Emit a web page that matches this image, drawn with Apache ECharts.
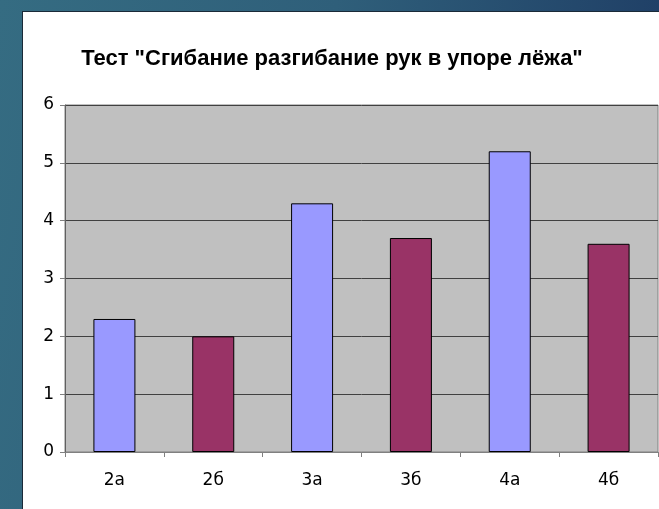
<!DOCTYPE html>
<html>
<head>
<meta charset="utf-8">
<script src="https://cdn.jsdelivr.net/npm/echarts@6/dist/echarts.min.js"></script>
<style>
    html, body {
        margin: 0;
        padding: 0;
        width: 659px;
        height: 509px;
        overflow: hidden;
        background: linear-gradient(100deg, #356c82 0%, #2f5f7a 45%, #1c3862 100%);
    }
    .panel {
        position: absolute;
        left: 22px;
        top: 11px;
        width: 637px;
        height: 498px;
        background: #fff;
        border-left: 1px solid #1a2a38;
        border-top: 1px solid #1a2a38;
    }
    #chart {
        position: absolute;
        left: 0;
        top: 0;
        width: 659px;
        height: 509px;
    }
</style>
</head>
<body>
<div class="panel"></div>
<div id="chart"></div>
<script>
    // данные
    var titleText = 'Тест "Сгибание разгибание рук в упоре лёжа"';
    var classes = ['2а', '2б', '3а', '3б', '4а', '4б'];
    var results = [2.3, 2.0, 4.3, 3.7, 5.2, 3.6];
    var barColors = ['#9999FF', '#993366'];

    var myChart = echarts.init(document.getElementById('chart'));

    myChart.setOption({
        animation: false,
        backgroundColor: 'transparent',
        title: {
            text: titleText,
            left: 327,
            top: 43,
            textAlign: 'center',
            textStyle: {
                fontFamily: 'Liberation Sans',
                fontWeight: 'bold',
                fontSize: 22,
                color: '#000'
            }
        },
        grid: {
            left: 65,
            top: 105,
            right: 1,
            bottom: 57,
            show: true,
            backgroundColor: '#C0C0C0',
            borderColor: '#808080',
            borderWidth: 1
        },
        xAxis: {
            type: 'category',
            data: classes,
            axisLine: {lineStyle: {color: '#808080', width: 1}},
            axisTick: {show: true, alignWithLabel: false, length: 5, lineStyle: {color: '#808080'}},
            axisLabel: {
                margin: 20,
                fontFamily: 'DejaVu Sans',
                fontSize: 17,
                color: '#000'
            }
        },
        yAxis: {
            type: 'value',
            min: 0,
            max: 6,
            interval: 1,
            axisLine: {show: true, lineStyle: {color: '#606060', width: 1}},
            axisTick: {show: true, length: 5, lineStyle: {color: '#808080'}},
            splitLine: {lineStyle: {color: '#404040', width: 1}},
            axisLabel: {
                margin: 11,
                fontFamily: 'DejaVu Sans',
                fontSize: 17,
                color: '#000'
            }
        },
        series: [{
            type: 'bar',
            barWidth: '42.5%',
            data: results.map(function (v, i) {
                return {
                    value: v,
                    itemStyle: {
                        color: barColors[i % 2],
                        borderColor: '#000',
                        borderWidth: 1
                    }
                };
            })
        }]
    });
</script>
</body>
</html>
